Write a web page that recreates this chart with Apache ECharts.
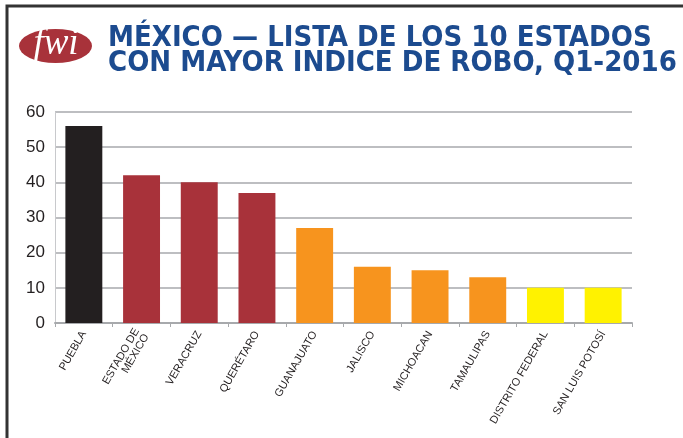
<!DOCTYPE html>
<html>
<head>
<meta charset="utf-8">
<script src="https://cdn.jsdelivr.net/npm/echarts@6/dist/echarts.min.js"></script>
<style>
  html, body { margin: 0; padding: 0; background: #fff; }
  #main { width: 683px; height: 438px; }
</style>
</head>
<body>
<div id="main"></div>
<script>
// datos
var estados = ['PUEBLA', 'ESTADO DE\nMÉXICO', 'VERACRUZ', 'QUERÉTARO', 'GUANAJUATO',
               'JALISCO', 'MICHOACAN', 'TAMAULIPAS', 'DISTRITO FEDERAL', 'SAN LUIS POTOSÍ'];
var indiceRobo = [56, 42, 40, 37, 27, 16, 15, 13, 10, 10];
var nivel = [0, 1, 1, 1, 2, 2, 2, 2, 3, 3];
var ejeY = [0, 10, 20, 30, 40, 50, 60];

(function(){
    var colores = ['#231f20', '#a8323a', '#f7941e', '#fff200'];
    var chart = echarts.init(document.getElementById('main'));

    var barras = [];
    for (var i = 0; i < indiceRobo.length; i++) {
        barras.push({ value: indiceRobo[i], itemStyle: { color: colores[nivel[i]] } });
    }

    var option = {
        animation: false,
        title: {
            text: 'MÉXICO — LISTA DE LOS 10 ESTADOS\nCON MAYOR INDICE DE ROBO, Q1-2016',
            left: 103,
            top: 21,
            textStyle: {
                color: '#1c4b8f',
                fontSize: 29,
                fontWeight: 'bold',
                fontFamily: "'Liberation Sans Narrow', 'DejaVu Sans Condensed', sans-serif",
                lineHeight: 25
            }
        },
        graphic: [
            {
                type: 'polyline',
                shape: { points: [[7, 440], [7, 6], [690, 6]] },
                style: { stroke: '#333', lineWidth: 3, fill: null }
            },
            {
                type: 'circle',
                x: 55.5, y: 46, scaleY: 17 / 36.5,
                shape: { cx: 0, cy: 0, r: 36.5 },
                style: { fill: '#a8323a' }
            },
            {
                type: 'text',
                x: 56, y: 44,
                style: {
                    text: 'fwi',
                    fill: '#fff',
                    font: 'italic 37px "Liberation Serif", "DejaVu Serif", serif',
                    align: 'center',
                    verticalAlign: 'middle'
                }
            }
        ],
        grid: { left: 55, right: 51, top: 112, bottom: 115 },
        xAxis: {
            type: 'category',
            data: estados,
            axisLine: { lineStyle: { color: '#a7a9ac', width: 2 } },
            axisTick: { show: true, length: 4, lineStyle: { color: '#a7a9ac' } },
            axisLabel: {
                rotate: 60,
                interval: 0,
                margin: 9,
                fontSize: 11,
                lineHeight: 11,
                color: '#231f20',
                fontFamily: "'Liberation Sans', Arial, sans-serif"
            }
        },
        yAxis: {
            type: 'value',
            min: ejeY[0],
            max: ejeY[ejeY.length - 1],
            interval: 10,
            axisLine: { show: true, lineStyle: { color: '#c8c9cc', width: 1 } },
            axisTick: { show: false },
            splitLine: { lineStyle: { color: '#a7a9ac', width: 1.5 } },
            axisLabel: {
                fontSize: 17,
                margin: 10,
                color: '#231f20',
                fontFamily: "'Liberation Sans', Arial, sans-serif"
            }
        },
        series: [{
            type: 'bar',
            data: barras,
            barCategoryGap: '36%'
        }]
    };
    chart.setOption(option);
})();
</script>
</body>
</html>
